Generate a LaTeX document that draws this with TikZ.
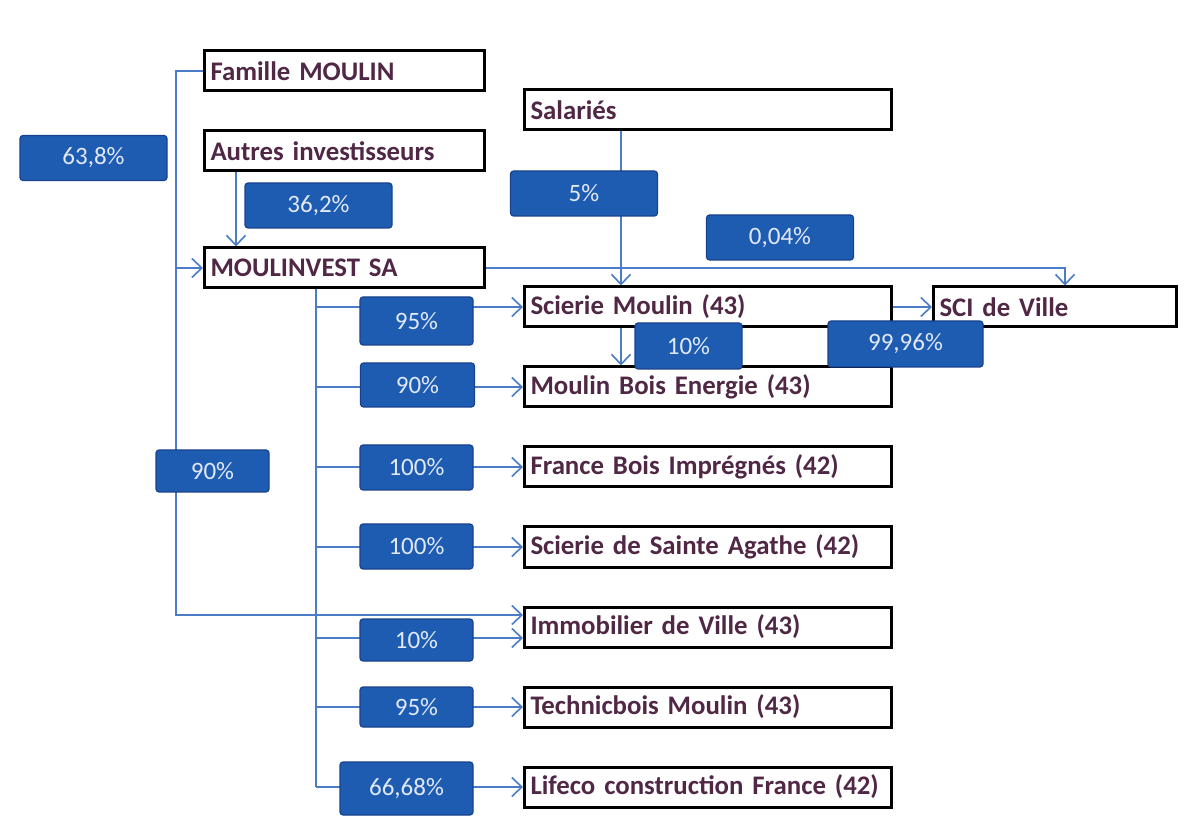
\documentclass[tikz,border=0pt]{standalone}
\usepackage{fontspec}
\setmainfont{Carlito}
\usetikzlibrary{arrows.meta}
\definecolor{prune}{RGB}{80,40,70}
\definecolor{bleutrait}{RGB}{74,124,200}
\definecolor{bleutaux}{RGB}{30,92,178}
\definecolor{bleubord}{RGB}{24,66,140}
\definecolor{blanctaux}{RGB}{225,232,246}
\tikzset{
  entite/.style={draw=black, line width=1.5pt, fill=white, anchor=west,
    text width=#1, align=left, inner xsep=3pt, minimum height=20pt,
    text=prune, font=\bfseries\fontsize{13.4}{14}\selectfont},
  entite/.default=177.5pt,
  taux/.style={fill=bleutaux, draw=bleubord, line width=0.6pt,
    rounded corners=1.5pt, text=blanctaux, inner sep=0pt,
    font=\fontsize{12.5}{13}\selectfont},
  lien/.style={color=bleutrait, line width=0.8pt},
  >={Straight Barb[length=5pt,width=9.5pt]}
}
\begin{document}
\begin{tikzpicture}[x=0.5pt,y=-0.5pt]
\useasboundingbox (0,0) rectangle (1201,834);
% Actionnaires
\node[entite=134pt] (famille) at (203,71) {Famille MOULIN};
\node[entite=134pt] (autres) at (203,151) {Autres investisseurs};
\node[entite=134pt] (moulinvest) at (203,268) {MOULINVEST SA};
\node[entite] (salaries) at (523,110) {Salariés};
% Filiales
\node[entite] (scierie) at (523,307) {Scierie Moulin (43)};
\node[entite=115.5pt] (sci) at (932,307) {SCI de Ville};
\node[entite] (mbe) at (523,387) {Moulin Bois Energie (43)};
\node[entite] (france) at (523,467) {France Bois Imprégnés (42)};
\node[entite] (agathe) at (523,547) {Scierie de Sainte Agathe (42)};
\node[entite] (immo) at (523,627) {Immobilier de Ville (43)};
\node[entite] (techno) at (523,707) {Technicbois Moulin (43)};
\node[entite] (lifeco) at (523,787) {Lifeco construction France (42)};
% Liens de la famille
\coordinate (gauche) at (176,71);
\coordinate (immohaut) at ([yshift=6pt]immo.west);
\coordinate (immobas) at ([yshift=-5.5pt]immo.west);
\draw[lien,->] (famille.west) -- (gauche) |- (moulinvest.west);
\draw[lien,->] (famille.west) -- (gauche) |- (immohaut);
\draw[lien,->] ([xshift=16.5pt]autres.south west) -- ([xshift=16.5pt]moulinvest.north west);
\draw[lien,->] (moulinvest.east) -| ([xshift=5pt]sci.north);
\draw[lien,->] ([xshift=49pt]salaries.south west) -- ([xshift=49pt]scierie.north west);
\draw[lien,->] ([xshift=49pt]scierie.south west) -- ([xshift=49pt]mbe.north west);
\draw[lien,->] (scierie.east) -- (sci.west);
% Tronc de MOULINVEST
\coordinate (tronc) at ([xshift=56.5pt]moulinvest.south west);
\draw[lien] (tronc) -- (tronc |- lifeco.west);
\foreach \f in {scierie,mbe,france,agathe,techno,lifeco}
  \draw[lien,->] (tronc |- \f.west) -- (\f.west);
\draw[lien,->] (tronc |- immobas) -- (immobas);
% Pourcentages
\node[taux, minimum width=73.5pt, minimum height=22.5pt] (p638) at (93.5,158) {63,8\%};
\node[taux, minimum width=73.5pt, minimum height=22.5pt] (p362) at (318.5,205.5) {36,2\%};
\node[taux, minimum width=73.5pt, minimum height=22.5pt] (p5) at (584,193.5) {5\%};
\node[taux, minimum width=73.5pt, minimum height=22.5pt] (p004) at (780,237.5) {0,04\%};
\node[taux, minimum width=53.5pt, minimum height=23pt] (p10a) at (688.5,346) {10\%};
\node[taux, minimum width=77.5pt, minimum height=23pt] (p9996) at (905.5,344) {99,96\%};
\node[taux, minimum width=56.5pt, minimum height=21pt] (p90b) at (212.5,471) {90\%};
\node[taux, minimum width=56.5pt, minimum height=24pt] (p95a) at (416.5,321) {95\%};
\node[taux, minimum width=57pt, minimum height=22pt] (p90a) at (417.5,385) {90\%};
\node[taux, minimum width=56.5pt, minimum height=22.5pt] (p100a) at (416.5,467.5) {100\%};
\node[taux, minimum width=56.5pt, minimum height=22.5pt] (p100b) at (416.5,546.5) {100\%};
\node[taux, minimum width=56.5pt, minimum height=21pt] (p10b) at (416.5,640) {10\%};
\node[taux, minimum width=56.5pt, minimum height=20pt] (p95b) at (416.5,707) {95\%};
\node[taux, minimum width=66.5pt, minimum height=26.5pt] (p6668) at (406.5,788.5) {66,68\%};
\end{tikzpicture}
\end{document}
